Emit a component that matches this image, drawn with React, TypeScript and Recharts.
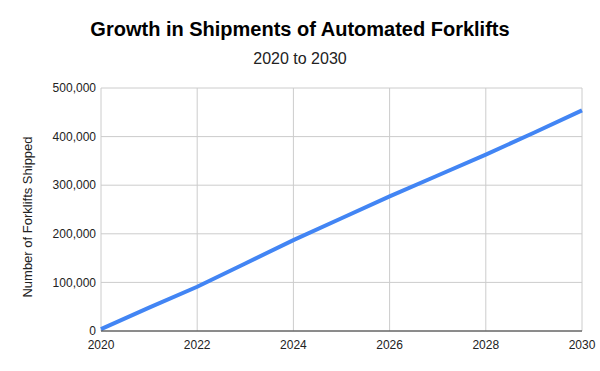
import React from 'react';
import { LineChart, Line, XAxis, YAxis, CartesianGrid } from 'recharts';

const years = [2020, 2021, 2022, 2023, 2024, 2025, 2026, 2027, 2028, 2029, 2030];
const shipments = [4000, 48000, 91000, 139000, 187000, 232000, 277000, 320000, 363000, 408000, 454000];
const xTicks = [2020, 2022, 2024, 2026, 2028, 2030];
const yTicks = [0, 100000, 200000, 300000, 400000, 500000];

const data = years.map((y, i) => ({ year: y, value: shipments[i] }));

const font = '"Liberation Sans", Arial, sans-serif';

export default function App() {
  return (
    <div style={{ position: 'absolute', left: 0, top: 0, width: 600, height: 371, background: '#fff', fontFamily: font }}>
      <div style={{ position: 'absolute', left: 0, top: 18, width: 600, textAlign: 'center', fontSize: 20, fontWeight: 'bold', color: '#000' }}>
        Growth in Shipments of Automated Forklifts
      </div>
      <div style={{ position: 'absolute', left: 0, top: 50, width: 600, textAlign: 'center', fontSize: 16, color: '#222' }}>
        2020 to 2030
      </div>
      <div style={{ position: 'absolute', left: 0, top: 0 }}>
        <LineChart width={600} height={371} data={data} margin={{ top: 88, right: 18, bottom: 10, left: 0 }}>
          <CartesianGrid stroke="#cccccc" vertical={true} horizontal={true} />
          <XAxis
            dataKey="year"
            type="number"
            domain={[2020, 2030]}
            ticks={xTicks}
            height={30}
            tickLine={false}
            tickSize={6}
            tickMargin={3}
            axisLine={{ stroke: '#333333', strokeWidth: 1 }}
            tick={{ fill: '#222222', fontSize: 12, fontFamily: font }}
            interval={0}
          />
          <YAxis
            type="number"
            domain={[0, 500000]}
            ticks={yTicks}
            width={101}
            tickLine={false}
            axisLine={false}
            tickSize={4}
            tickMargin={1}
            tick={{ fill: '#222222', fontSize: 12, fontFamily: font }}
            tickFormatter={(v: number) => v.toLocaleString('en-US')}
            interval={0}
          />
          <Line type="linear" dataKey="value" stroke="#4285F4" strokeWidth={4} dot={false} isAnimationActive={false} />
        </LineChart>
      </div>
      <svg style={{ position: 'absolute', left: 0, top: 0 }} width={60} height={371}>
        <text
          x={27}
          y={217}
          transform="rotate(-90 27 217)"
          textAnchor="middle"
          dominantBaseline="central"
          fill="#222222"
          fontSize={13}
          fontFamily={font}
        >
          Number of Forklifts Shipped
        </text>
      </svg>
    </div>
  );
}
